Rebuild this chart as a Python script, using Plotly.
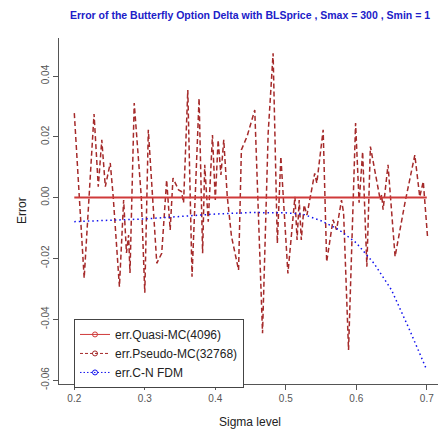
import plotly.graph_objects as go

# sigma grid for the smooth series
sigma = [0.2, 0.25, 0.3, 0.35, 0.4, 0.45, 0.5, 0.525, 0.55, 0.575, 0.6, 0.625, 0.65, 0.675, 0.7]
err_quasi = [0.0, 0.0, 0.0, 0.0, 0.0, 0.0, 0.0, 0.0, 0.0, 0.0, 0.0, 0.0, 0.0, 0.0, 0.0]
err_fdm = [-0.0079, -0.0075, -0.0070, -0.0062, -0.0054, -0.0049, -0.0050, -0.0055,
           -0.0076, -0.0105, -0.0149, -0.0216, -0.0304, -0.0432, -0.0567]

# pseudo MC error
sigma_pmc = [0.200, 0.214, 0.228, 0.234, 0.239, 0.244, 0.251, 0.255, 0.264, 0.270,
             0.274, 0.277, 0.279, 0.285, 0.295, 0.300, 0.305, 0.317, 0.324, 0.331,
             0.336, 0.340, 0.348, 0.352, 0.355, 0.361, 0.367, 0.377, 0.382, 0.385,
             0.390, 0.396, 0.400, 0.404, 0.408, 0.412, 0.417, 0.423, 0.433, 0.437,
             0.445, 0.456, 0.467, 0.475, 0.482, 0.488, 0.493, 0.503, 0.513, 0.516,
             0.519, 0.522, 0.526, 0.530, 0.541, 0.544, 0.553, 0.558, 0.567, 0.572,
             0.579, 0.582, 0.589, 0.599, 0.604, 0.609, 0.615, 0.620, 0.634, 0.636,
             0.638, 0.645, 0.655, 0.669, 0.683, 0.690, 0.695, 0.701]
err_pmc = [0.0278, -0.0265, 0.0275, 0.0036, 0.0190, 0.0036, 0.0114, 0.0009, -0.0293, -0.0008,
           -0.0182, -0.0123, -0.0248, 0.0311, 0.0003, -0.0313, 0.0223, -0.0216, -0.0183, 0.0058,
           -0.0106, 0.0064, 0.0025, 0.0020, -0.0017, 0.0354, -0.0260, 0.0327, -0.0183, 0.0108,
           -0.0079, 0.0206, -0.0008, 0.0190, 0.0075, 0.0190, 0.0003, -0.0128, -0.0238, 0.0157,
           0.0201, 0.0288, -0.0446, 0.0212, 0.0475, -0.0150, 0.0135, -0.0249, 0.0003, -0.0139,
           -0.0008, -0.0139, -0.0024, -0.0057, 0.0080, 0.0048, 0.0223, -0.0211, -0.0073, -0.0106,
           -0.0008, -0.0050, -0.0501, 0.0245, -0.0017, 0.0151, -0.0227, 0.0168, -0.0008, 0.0009,
           -0.0040, 0.0108, -0.0194, -0.0017, 0.0140, 0.0003, 0.0053, -0.0128]

xticks = [0.2, 0.3, 0.4, 0.5, 0.6, 0.7]
yticks = [-0.06, -0.04, -0.02, 0.0, 0.02, 0.04]

red = '#d03a3a'
brown = '#a52a2a'
blue = '#1010ee'

fig = go.Figure()
fig.add_trace(go.Scatter(x=sigma_pmc, y=err_pmc, mode='lines', showlegend=False,
                         line=dict(color=brown, width=1.5, dash='5px,3px')))
fig.add_trace(go.Scatter(x=sigma, y=err_fdm, mode='lines', showlegend=False,
                         line=dict(color=blue, width=1.5, dash='1.5px,3px')))
fig.add_trace(go.Scatter(x=sigma, y=err_quasi, mode='lines', showlegend=False,
                         line=dict(color=red, width=2)))

# legend-only entries (lines with a circle marker, as in the original)
for name, col, dash in [('err.Quasi-MC(4096)', red, 'solid'),
                        ('err.Pseudo-MC(32768)', brown, '3px,2px'),
                        ('err.C-N FDM', blue, '1.5px,2px')]:
    fig.add_trace(go.Scatter(x=[None], y=[None], mode='lines+markers', name=name,
                             line=dict(color=col, width=1, dash=dash),
                             marker=dict(symbol='circle-open', size=5, color=col)))

fig.update_layout(
    width=438, height=433,
    margin=dict(l=59, r=0, t=38, b=49),
    plot_bgcolor='white', paper_bgcolor='white',
    font=dict(family='Arial, Liberation Sans, sans-serif', color='#222'),
    title=dict(text='<b>Error of the Butterfly Option Delta with BLSprice , Smax = 300 , Smin = 1</b>',
               font=dict(size=10.5, color='#2020c8'),
               x=0.504, xref='paper', xanchor='center', y=1 - 15 / 433, yanchor='middle'),
    xaxis=dict(range=[0.1783, 0.7159], tickvals=xticks, ticktext=[f'{v:.1f}' for v in xticks],
               showgrid=False, zeroline=False, showline=True, linecolor='#555', linewidth=1,
               ticks='outside', ticklen=5, tickcolor='#555',
               tickfont=dict(size=10, color='#555')),
    yaxis=dict(range=[-0.0613, 0.0525], tickvals=yticks, ticktext=[f'{v:.2f}' for v in yticks],
               showgrid=False, zeroline=False, showline=True, linecolor='#555', linewidth=1,
               ticks='outside', ticklen=5, tickcolor='#555', tickangle=-90,
               tickfont=dict(size=10, color='#555')),
    legend=dict(x=0.0396, y=0.188, xanchor='left', yanchor='top',
                bordercolor='#444', borderwidth=1, bgcolor='white',
                font=dict(size=12, color='#222'), itemwidth=30),
    annotations=[
        dict(text='Sigma level', xref='paper', yref='paper', x=0.504, y=-38 / 346,
             showarrow=False, font=dict(size=12, color='#222'), yanchor='middle'),
        dict(text='Error', xref='paper', yref='paper', x=-37 / 379, y=0.5, textangle=-90,
             showarrow=False, font=dict(size=12, color='#222'), xanchor='center'),
    ],
)

# drop the default page margin so the figure fills the window exactly
fig.write_html('out.html', config={'displayModeBar': False},
               post_script="document.body.style.margin='0';document.body.style.overflow='hidden';")
